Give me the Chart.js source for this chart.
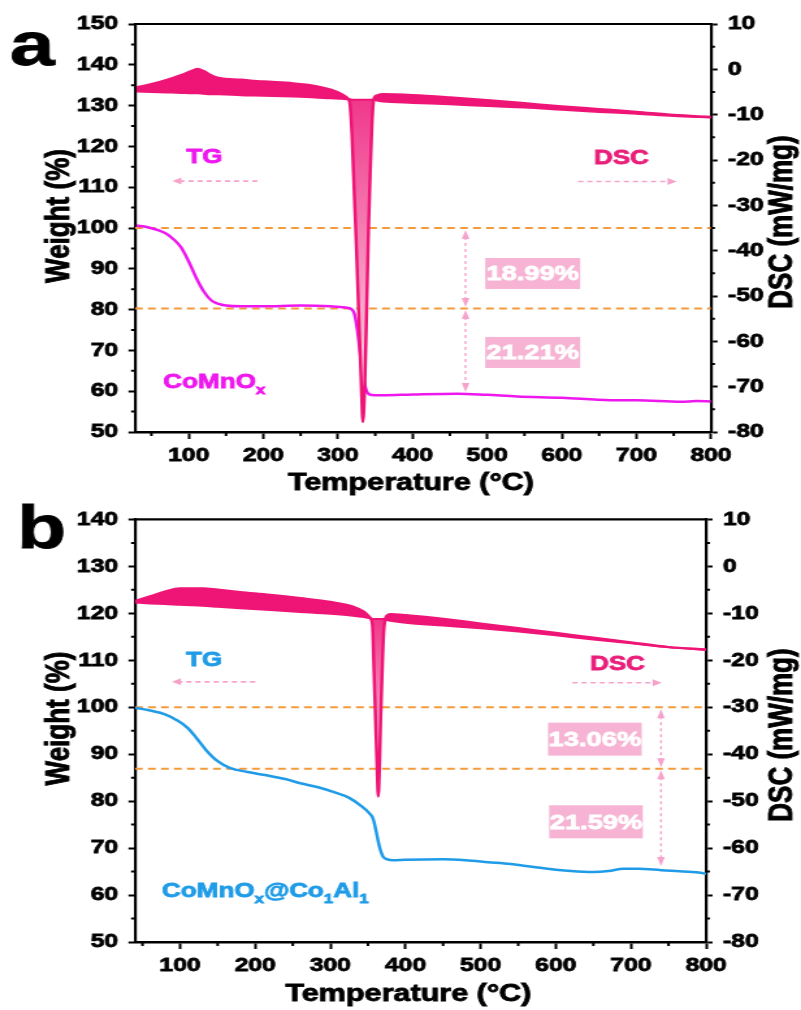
<!DOCTYPE html>
<html>
<head>
<meta charset="utf-8">
<script src="https://cdn.jsdelivr.net/npm/chart.js@4.4.1/dist/chart.umd.min.js"></script>
<style>
  html, body { margin: 0; padding: 0; background: #fff; }
  #wrap { position: relative; width: 801px; height: 1010px; overflow: hidden; }
  canvas { position: absolute; left: 0; }
</style>
</head>
<body>
<div id="wrap">
  <!-- drawn 616 wide and stretched to 801, the source figure is squeezed like that -->
  <canvas id="chartA" width="616" height="500" style="top:0;width:801px;height:500px"></canvas>
  <canvas id="chartB" width="616" height="510" style="top:500px;width:801px;height:510px"></canvas>
</div>
<script>
'use strict';

// ---- panel a : CoMnOx ----
const tgTempA   = [30, 45, 60, 70, 80, 90, 100, 110, 120, 130, 140, 150, 170, 200, 250, 290, 310, 318, 322, 326,
                   330, 334, 338, 342, 350, 360, 400, 460, 500, 540, 600, 665, 700, 760, 780, 800];
const tgWeightA = [100.6, 100.2, 99.4, 98.6, 97.2, 95.2, 91.8, 87.8, 84.5, 82.3, 81.4, 81.0, 80.8, 80.8, 81.0, 80.8, 80.5, 80.1, 79.0, 75.0,
                   69.0, 63.5, 60.2, 59.2, 59.0, 59.0, 59.2, 59.4, 59.1, 58.7, 58.4, 57.8, 57.8, 57.4, 57.6, 57.5];
const dscTempA  = [30, 50, 70, 90, 105, 112, 120, 130, 140, 170, 200, 240, 270, 290, 305, 313, 316, 319, 322, 325,
                   328, 331, 333.5, 336, 338.5, 341, 343, 345.5, 348, 352, 360, 400, 450, 500, 550, 600, 650, 700, 750, 800];
const dscA      = [-4.0, -3.3, -2.4, -1.3, -0.3, 0.1, -0.4, -1.3, -1.9, -2.3, -2.7, -3.1, -3.7, -4.5, -5.5, -6.4, -7.5, -15.2, -27.8, -40.4,
                   -54.8, -68.3, -77.8, -69.2, -53, -35, -24.2, -12.5, -6.6, -5.8, -5.5, -5.7, -6.2, -6.8, -7.5, -8.2, -8.8, -9.4, -10.1, -10.5];
const dscBaseA  = [-4.9, -5.0, -5.1, -5.2, -5.3, -5.3, -5.4, -5.5, -5.5, -5.7, -5.8, -6.0, -6.2, -6.4, -6.5, -6.6, -6.6, -6.7, -6.7, -6.7,
                   -6.7, -6.7, -6.7, -6.7, -6.7, -6.7, -6.7, -6.7, -6.7, -6.9, -7.1, -7.4, -7.7, -8.1, -8.4, -8.9, -9.4, -9.8, -10.3, -10.6];
const lossLevelsA = [100, 80.3];
const lossLabelsA = ['18.99%', '21.21%'];
const sampleA = [['CoMnO', false], ['x', true]];

// ---- panel b : CoMnOx@Co1Al1 ----
const tgTempB   = [40, 60, 80, 95, 110, 122, 135, 150, 166, 190, 215, 240, 260, 285, 305, 325, 340, 352, 357, 361,
                   365, 370, 376, 383, 400, 450, 480, 510, 540, 560, 600, 620, 650, 670, 690, 710, 740, 760, 790, 800];
const tgWeightB = [99.9, 99.3, 98.5, 97.3, 95.6, 93.4, 90.8, 88.5, 87.1, 86.2, 85.5, 84.7, 83.8, 82.9, 81.9, 80.7, 79.1, 77.4, 76.2, 73.5,
                   70.5, 68.2, 67.6, 67.4, 67.5, 67.6, 67.4, 67.0, 66.6, 66.2, 65.4, 65.1, 64.9, 65.1, 65.6, 65.6, 65.3, 65.1, 64.8, 64.5];
const dscTempB  = [40, 60, 80, 100, 130, 150, 180, 220, 260, 300, 330, 345, 352, 356, 358, 360, 362, 363.7, 365.5, 367,
                   369, 371, 374, 380, 400, 450, 500, 550, 600, 650, 700, 750, 800];
const dscB      = [-7.4, -6.4, -5.4, -4.7, -4.7, -5.0, -5.5, -6.1, -6.8, -7.6, -8.6, -9.7, -10.8, -12.5, -22, -32, -42, -49, -42, -32,
                   -22, -14, -10.8, -10.2, -10.4, -11.2, -12.2, -13.2, -14.2, -15.2, -16.2, -17.2, -17.7];
const dscBaseB  = [-7.7, -7.9, -8.0, -8.2, -8.4, -8.6, -8.9, -9.3, -9.7, -10.1, -10.5, -10.8, -11.0, -11.2, -11.2, -11.2, -11.2, -11.2, -11.2, -11.2,
                   -11.2, -11.2, -11.4, -11.6, -12.0, -12.6, -13.2, -13.9, -14.7, -15.6, -16.4, -17.2, -17.8];
const lossLevelsB = [100, 86.9];
const lossLabelsB = ['13.06%', '21.59%'];
const sampleB = [['CoMnO', false], ['x', true], ['@Co', false], ['1', true], ['Al', false], ['1', true]];

// ---- axes ----
const xTicks = [100, 200, 300, 400, 500, 600, 700, 800];
const xMinor = [50, 150, 250, 350, 450, 550, 650, 750];
const weightTicksA = [50, 60, 70, 80, 90, 100, 110, 120, 130, 140, 150];
const weightMinorA = [55, 65, 75, 85, 95, 105, 115, 125, 135, 145];
const weightTicksB = [50, 60, 70, 80, 90, 100, 110, 120, 130, 140];
const weightMinorB = [55, 65, 75, 85, 95, 105, 115, 125, 135];
const dscTicks = [-80, -70, -60, -50, -40, -30, -20, -10, 0, 10];
const dscMinor = [-75, -65, -55, -45, -35, -25, -15, -5, 5];

const FAMILY = '"Liberation Sans", Arial, Helvetica, sans-serif';
const PINK = '#ee1576';
const ORANGE = '#f39a3d';
const ARROW = '#f6a3cb';
const BOX = '#f6b3d3';
const MAGENTA = '#ee17ee';
const BLUE = '#1f9be7';
const DSC_TEXT = '#e91e7a';
const HEAVY = 0.8; // extra outline so the bold text looks as heavy as the figure's

const pts = (xs, ys) => xs.map((x, i) => ({x: x, y: ys[i]}));

// light pink inside the endothermic dip
function dipFill(top, bottom) {
  return function (c) {
    const ch = c.chart;
    if (!ch.chartArea) return '#f57aab';
    const s = ch.scales.y2;
    const g = ch.ctx.createLinearGradient(0, s.getPixelForValue(top), 0, s.getPixelForValue(bottom));
    g.addColorStop(0, '#f0388a');
    g.addColorStop(1, '#fde3ee');
    return g;
  };
}

function heavyText(ctx, text, x, y) {
  ctx.lineWidth = HEAVY;
  ctx.strokeStyle = ctx.fillStyle;
  ctx.strokeText(text, x, y);
  ctx.fillText(text, x, y);
}

function hArrow(ctx, x1, x2, y) {
  const dir = Math.sign(x2 - x1);
  ctx.save();
  ctx.strokeStyle = ARROW; ctx.fillStyle = ARROW; ctx.lineWidth = 1.6;
  ctx.setLineDash([4, 3]);
  ctx.beginPath(); ctx.moveTo(x1, y); ctx.lineTo(x2 - dir * 6, y); ctx.stroke();
  ctx.setLineDash([]);
  ctx.beginPath();
  ctx.moveTo(x2, y); ctx.lineTo(x2 - dir * 7, y - 3.5); ctx.lineTo(x2 - dir * 7, y + 3.5);
  ctx.closePath(); ctx.fill();
  ctx.restore();
}

// double headed, y1 above y2
function vArrow(ctx, x, y1, y2) {
  ctx.save();
  ctx.strokeStyle = ARROW; ctx.fillStyle = ARROW; ctx.lineWidth = 1.4;
  ctx.setLineDash([3, 3]);
  ctx.beginPath(); ctx.moveTo(x, y1 + 7); ctx.lineTo(x, y2 - 7); ctx.stroke();
  ctx.setLineDash([]);
  ctx.beginPath();
  ctx.moveTo(x, y1); ctx.lineTo(x - 3, y1 + 9); ctx.lineTo(x + 3, y1 + 9); ctx.closePath();
  ctx.moveTo(x, y2); ctx.lineTo(x - 3, y2 - 9); ctx.lineTo(x + 3, y2 - 9); ctx.closePath();
  ctx.fill();
  ctx.restore();
}

function richText(ctx, x, y, parts, color, size) {
  ctx.save();
  ctx.fillStyle = color; ctx.textAlign = 'left'; ctx.textBaseline = 'alphabetic';
  let cx = x;
  parts.forEach(function (p) {
    const fs = p[1] ? size * 0.65 : size;
    ctx.font = 'bold ' + fs + 'px ' + FAMILY;
    heavyText(ctx, p[0], cx, p[1] ? y + size * 0.28 : y);
    cx += ctx.measureText(p[0]).width;
  });
  ctx.restore();
}

function vText(ctx, text, x, y) {
  ctx.save();
  ctx.translate(x, y); ctx.rotate(-Math.PI / 2);
  heavyText(ctx, text, 0, 0);
  ctx.restore();
}

function makeChart(id, p) {
  const datasets = [
    {data: pts(p.dscTemp, p.dsc), yAxisID: 'y2', borderColor: PINK, borderWidth: 2.5,
     backgroundColor: dipFill(p.dipTop, p.dipBottom), fill: {target: '+1', above: PINK}, order: 1},
    {data: pts(p.dscTemp, p.dscBase), yAxisID: 'y2', borderColor: PINK, borderWidth: 2, fill: false, order: 0},
    {data: pts(p.tgTemp, p.tgWeight), yAxisID: 'y', borderColor: p.tgColor, borderWidth: 2.5, fill: false, order: 2}
  ];
  p.levels.forEach(function (v) {
    datasets.push({data: [{x: p.xMin, y: v}, {x: 800, y: v}], yAxisID: 'y', borderColor: ORANGE,
                   borderWidth: 2, borderDash: [6, 4], fill: false, order: 3});
  });

  const tickFont = {family: FAMILY, size: 19, weight: 'bold'};
  const tickOpts = {font: tickFont, color: '#000', autoSkip: false, maxRotation: 0,
                    textStrokeColor: '#000', textStrokeWidth: HEAVY, callback: v => String(v)};
  const a = p.notes;

  const decor = {
    id: 'decor',
    afterDatasetsDraw(chart) {
      const ctx = chart.ctx, area = chart.chartArea;
      const sx = chart.scales.x, sy = chart.scales.y, s2 = chart.scales.y2;
      ctx.save();
      ctx.strokeStyle = '#000';
      ctx.lineWidth = 2.2;
      ctx.beginPath(); ctx.moveTo(area.left - 1, area.top); ctx.lineTo(area.right + 1, area.top); ctx.stroke();
      // minor ticks
      ctx.lineWidth = 2;
      ctx.beginPath();
      xMinor.forEach(function (v) { const q = sx.getPixelForValue(v); ctx.moveTo(q, area.bottom); ctx.lineTo(q, area.bottom + 4); });
      p.yMinor.forEach(function (v) { const q = sy.getPixelForValue(v); ctx.moveTo(area.left, q); ctx.lineTo(area.left - 3, q); });
      dscMinor.forEach(function (v) { const q = s2.getPixelForValue(v); ctx.moveTo(area.right, q); ctx.lineTo(area.right + 3, q); });
      ctx.stroke();
      ctx.restore();
    },
    afterDraw(chart) {
      const ctx = chart.ctx;
      const X = v => chart.scales.x.getPixelForValue(v);
      const Y = v => chart.scales.y.getPixelForValue(v);
      ctx.save();
      ctx.fillStyle = '#000';
      // panel letter
      ctx.font = 'bold 62px ' + FAMILY;
      ctx.textAlign = 'left'; ctx.textBaseline = 'alphabetic';
      heavyText(ctx, p.letter, p.letterPos[0], p.letterPos[1]);
      // axis titles
      ctx.textAlign = 'center';
      ctx.font = 'bold 23.5px ' + FAMILY;
      heavyText(ctx, 'Temperature (°C)', a.xTitle[0], a.xTitle[1]);
      ctx.textBaseline = 'middle';
      ctx.font = 'bold 26px ' + FAMILY;
      vText(ctx, 'Weight (%)', 45.8, a.weightTitleY);
      vText(ctx, 'DSC (mW/mg)', 602, a.dscTitleY);
      // TG / DSC labels and arrows
      ctx.font = 'bold 20px ' + FAMILY;
      ctx.fillStyle = p.tgColor;
      heavyText(ctx, 'TG', X(a.tgText[0]), Y(a.tgText[1]));
      ctx.fillStyle = DSC_TEXT;
      heavyText(ctx, 'DSC', X(a.dscText[0]), Y(a.dscText[1]));
      hArrow(ctx, X(a.tgArrow[0]), X(a.tgArrow[1]), Y(a.tgArrow[2]));
      hArrow(ctx, X(a.dscArrow[0]), X(a.dscArrow[1]), Y(a.dscArrow[2]));
      // weight loss steps
      const lx = X(a.lossX);
      vArrow(ctx, lx, Y(p.levels[0]) + 2, Y(p.levels[1]) - 1.5);
      vArrow(ctx, lx, Y(p.levels[1]) + 1.5, Y(a.lossEnd));
      ctx.font = 'bold 21px ' + FAMILY;
      a.boxes.forEach(function (b, i) {
        const cx = X(b[0]), cy = Y(b[1]);
        ctx.fillStyle = BOX;
        ctx.fillRect(cx - a.boxSize[0] / 2, cy - a.boxSize[1] / 2, a.boxSize[0], a.boxSize[1]);
        ctx.fillStyle = '#fff';
        heavyText(ctx, p.lossLabels[i], cx, cy + 1);
      });
      ctx.restore();
      richText(ctx, X(a.sample[0]), Y(a.sample[1]), p.sample, p.tgColor, 20);
    }
  };

  return new Chart(document.getElementById(id), {
    type: 'line',
    data: {datasets: datasets},
    options: {
      responsive: false,
      animation: false,
      events: [],
      layout: {padding: {top: p.top, left: 0, right: 0, bottom: 0}},
      elements: {point: {radius: 0}, line: {cubicInterpolationMode: 'monotone'}},
      plugins: {legend: {display: false}, tooltip: {enabled: false}},
      scales: {
        x: {
          type: 'linear', position: 'bottom', min: p.xMin, max: 800,
          afterBuildTicks: s => { s.ticks = xTicks.map(v => ({value: v})); },
          afterFit: s => { s.height = p.xHeight; },
          grid: {drawOnChartArea: false, tickLength: 7, tickWidth: 2, tickColor: '#000'},
          border: {color: '#000', width: 2.5},
          ticks: Object.assign({padding: 5}, tickOpts)
        },
        y: {
          type: 'linear', position: 'left', min: p.yTicks[0], max: p.yTicks[p.yTicks.length - 1],
          afterBuildTicks: s => { s.ticks = p.yTicks.map(v => ({value: v})); },
          afterFit: s => { s.width = p.yWidth; },
          grid: {drawOnChartArea: false, tickLength: 5, tickWidth: 2, tickColor: '#000'},
          border: {color: '#000', width: 2.2},
          ticks: Object.assign({padding: 8}, tickOpts)
        },
        y2: {
          type: 'linear', position: 'right', min: -80, max: 10,
          afterBuildTicks: s => { s.ticks = dscTicks.map(v => ({value: v})); },
          afterFit: s => { s.width = p.y2Width; },
          grid: {drawOnChartArea: false, tickLength: 5, tickWidth: 2, tickColor: '#000'},
          border: {color: '#000', width: 2.2},
          ticks: Object.assign({padding: 8}, tickOpts)
        }
      }
    },
    plugins: [decor]
  });
}

makeChart('chartA', {
  xMin: 28, yTicks: weightTicksA, yMinor: weightMinorA,
  top: 24, xHeight: 68, yWidth: 103.8, y2Width: 69.2,
  tgTemp: tgTempA, tgWeight: tgWeightA, tgColor: MAGENTA,
  dscTemp: dscTempA, dsc: dscA, dscBase: dscBaseA, dipTop: -6.7, dipBottom: -78,
  levels: lossLevelsA, lossLabels: lossLabelsA, sample: sampleA,
  letter: 'a', letterPos: [7.5, 65],
  notes: {
    tgText: [121, 117.3], tgArrow: [192, 78, 111.5],
    dscText: [680, 117], dscArrow: [622, 754, 111.4],
    sample: [66, 60.8], lossX: 471, lossEnd: 59.8,
    boxes: [[561, 88.85], [561, 69.5]], boxSize: [73, 31],
    xTitle: [316, 490], weightTitleY: 216, dscTitleY: 222
  }
});

makeChart('chartB', {
  xMin: 40, yTicks: weightTicksB, yMinor: weightMinorB,
  top: 19, xHeight: 68, yWidth: 103.8, y2Width: 73,
  tgTemp: tgTempB, tgWeight: tgWeightB, tgColor: BLUE,
  dscTemp: dscTempB, dsc: dscB, dscBase: dscBaseB, dipTop: -11.2, dipBottom: -49,
  levels: lossLevelsB, lossLabels: lossLabelsB, sample: sampleB,
  letter: 'b', letterPos: [13, 48.3],
  notes: {
    tgText: [132, 109.9], tgArrow: [200, 89, 105.4],
    dscText: [682, 109], dscArrow: [622, 741, 105.2],
    sample: [76, 59.6], lossX: 740, lossEnd: 66.2,
    boxes: [[652, 93.2], [653.5, 75.6]], boxSize: [72, 33],
    xTitle: [314, 501], weightTitleY: 218.5, dscTitleY: 235
  }
});
</script>
</body>
</html>
